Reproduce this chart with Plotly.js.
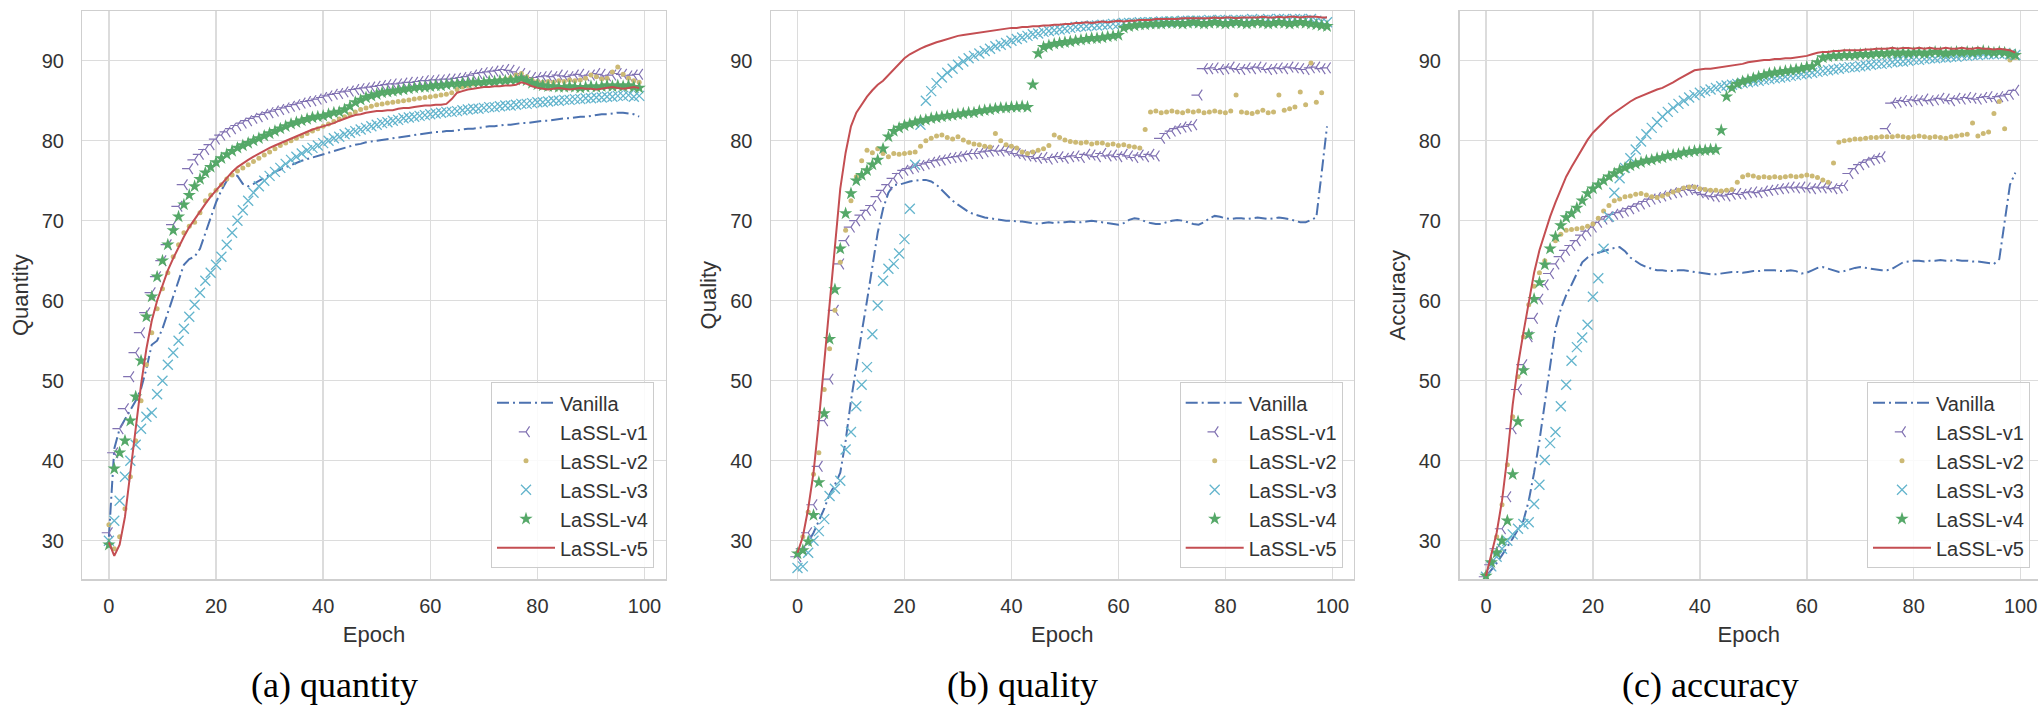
<!DOCTYPE html>
<html>
<head>
<meta charset="utf-8">
<script src="https://cdn.plot.ly/plotly-3.0.1.min.js"></script>
<style>html,body{margin:0;padding:0;background:#fff;}#chart{width:2038px;height:708px;}</style>
</head>
<body>
<div id="chart"></div>
<script>
const EPOCHS = [0,1,2,3,4,5,6,7,8,9,10,11,12,13,14,15,16,17,18,19,20,21,22,23,24,25,26,27,28,29,30,31,32,33,34,35,36,37,38,39,40,41,42,43,44,45,46,47,48,49,50,51,52,53,54,55,56,57,58,59,60,61,62,63,64,65,66,67,68,69,70,71,72,73,74,75,76,77,78,79,80,81,82,83,84,85,86,87,88,89,90,91,92,93,94,95,96,97,98,99];
const SERIES_NAMES = ['Vanilla','LaSSL-v1','LaSSL-v2','LaSSL-v3','LaSSL-v4','LaSSL-v5'];
const X_TICKS = [0,20,40,60,80,100];
const Y_TICKS = [30,40,50,60,70,80,90];
const Y_TITLES = ['Quantity','Quality','Accuracy'];
const CAPTIONS = ['(a) quantity','(b) quality','(c) accuracy'];

// ---- (a) quantity ----
const A_VANILLA = [30.5,41.5,44.0,45.2,46.3,47.5,49.0,51.5,54.5,55.0,
56.5,58.5,60.5,62.5,64.5,65.2,65.5,66.5,68.5,70.5,
72.3,73.8,75.0,75.8,75.6,74.6,74.3,74.6,75.0,75.4,
75.8,76.1,76.4,76.7,77.0,77.3,77.5,77.7,77.9,78.1,
78.3,78.5,78.7,78.9,79.1,79.3,79.5,79.6,79.8,79.9,
80.0,80.1,80.2,80.3,80.4,80.5,80.6,80.7,80.8,80.9,
81.0,81.1,81.1,81.2,81.2,81.3,81.4,81.5,81.5,81.6,
81.7,81.8,81.8,81.9,82.0,82.0,82.1,82.2,82.2,82.3,
82.4,82.5,82.5,82.6,82.7,82.8,82.8,82.9,83.0,83.0,
83.1,83.2,83.3,83.3,83.4,83.5,83.5,83.4,83.3,83.0];
const A_V1 = [31.0,41.0,44.0,46.5,50.5,53.5,56.0,58.5,61.0,63.0,
65.0,67.0,69.5,71.8,74.5,76.5,77.6,78.3,78.9,79.5,
80.2,80.7,81.1,81.5,81.9,82.2,82.5,82.8,83.0,83.3,
83.5,83.7,83.9,84.1,84.3,84.5,84.7,84.9,85.0,85.2,
85.4,85.6,85.8,85.9,86.1,86.2,86.4,86.5,86.6,86.7,
86.8,86.9,87.0,87.1,87.1,87.2,87.3,87.3,87.4,87.5,
87.5,87.6,87.6,87.7,87.7,87.8,87.9,88.0,88.2,88.4,
88.5,88.6,88.7,88.8,88.9,88.8,88.6,88.4,88.1,87.9,
87.9,88.0,88.1,88.0,88.2,88.1,88.0,88.2,88.3,88.1,
88.2,88.4,88.3,88.1,88.2,88.4,88.3,88.1,88.2,88.3];
const A_V2 = [32.0,29.0,30.5,34.0,38.0,42.5,47.5,52.0,56.0,59.0,
61.5,63.5,65.5,67.0,68.5,69.3,69.8,71.0,72.5,73.2,
73.8,74.5,75.2,75.7,76.2,76.6,77.0,77.4,77.8,78.2,
78.6,79.0,79.4,79.7,80.0,80.3,80.6,80.9,81.2,81.5,
81.8,82.1,82.4,82.7,83.0,83.3,83.6,83.9,84.1,84.3,
84.5,84.6,84.7,84.8,84.9,85.0,85.1,85.2,85.3,85.4,
85.5,85.6,85.7,85.8,86.0,86.4,86.7,86.9,87.1,87.2,
87.3,87.4,87.5,87.6,87.7,87.9,88.2,88.4,88.0,87.6,
87.4,87.3,87.4,87.3,87.5,87.4,87.6,87.5,87.6,87.8,
88.2,88.0,87.7,87.8,88.6,89.2,88.3,87.8,87.5,87.3];
const A_V3 = [30.0,32.5,35.0,38.0,40.0,42.0,44.0,45.5,46.0,48.3,
50.0,52.0,53.5,55.0,56.5,58.0,59.5,61.0,62.5,63.5,
64.5,65.5,67.0,68.5,70.0,71.3,72.5,73.5,74.3,75.0,
75.6,76.1,76.6,77.1,77.6,78.0,78.4,78.8,79.1,79.4,
79.7,80.0,80.3,80.5,80.8,81.0,81.2,81.4,81.6,81.8,
82.0,82.2,82.3,82.5,82.6,82.8,82.9,83.0,83.1,83.2,
83.3,83.4,83.5,83.6,83.6,83.7,83.8,83.9,84.0,84.0,
84.1,84.2,84.2,84.3,84.4,84.4,84.5,84.6,84.6,84.7,
84.8,84.8,84.9,85.0,85.0,85.1,85.1,85.2,85.2,85.3,
85.3,85.4,85.4,85.5,85.5,85.6,85.6,85.7,85.5,85.6];
const A_V4 = [29.5,39.0,41.0,42.5,45.0,48.0,52.5,58.0,60.5,63.0,
65.0,67.0,68.8,70.5,72.0,73.2,74.3,75.2,76.0,76.7,
77.3,77.8,78.3,78.7,79.1,79.4,79.7,80.0,80.3,80.6,
80.9,81.2,81.5,81.8,82.1,82.3,82.5,82.7,82.9,83.0,
83.1,83.3,83.5,83.6,83.9,84.3,84.8,85.1,85.4,85.6,
85.8,86.0,86.1,86.2,86.3,86.4,86.5,86.6,86.7,86.7,
86.8,86.9,86.9,87.0,87.1,87.1,87.2,87.2,87.3,87.3,
87.3,87.4,87.4,87.5,87.5,87.6,87.6,87.8,87.5,87.2,
87.0,86.9,86.8,86.8,86.7,86.7,86.8,86.7,86.6,86.7,
86.8,86.7,86.8,86.9,86.8,86.9,86.8,86.9,86.7,86.6];
const A_V5 = [29.8,28.1,29.5,33.0,38.5,44.0,49.5,54.0,57.5,60.0,
62.0,63.8,65.3,66.7,68.0,69.2,70.2,71.2,72.1,73.0,
73.8,74.6,75.4,76.1,76.7,77.2,77.6,78.0,78.4,78.8,
79.1,79.4,79.7,80.0,80.3,80.6,80.9,81.2,81.4,81.6,
81.8,82.0,82.2,82.5,82.8,83.0,83.2,83.3,83.5,83.6,
83.7,83.7,83.8,83.8,84.0,84.1,84.1,84.2,84.3,84.4,
84.4,84.5,84.5,84.6,85.2,86.0,86.2,86.4,86.5,86.6,
86.7,86.7,86.8,86.8,86.9,86.9,87.0,87.3,87.1,86.8,
86.6,86.5,86.4,86.5,86.6,86.5,86.4,86.5,86.6,86.5,
86.5,86.4,86.5,86.6,86.7,86.6,86.5,86.6,86.7,86.6];

// ---- (b) quality ----
const B_VANILLA = [28.0,28.8,29.8,31.0,32.5,34.0,35.8,37.0,38.5,42.5,
47.5,52.0,56.0,60.0,64.5,68.5,71.5,73.5,74.5,74.5,
74.7,74.9,75.0,75.1,75.1,74.9,74.5,73.8,73.1,72.5,
72.0,71.5,71.1,70.8,70.6,70.4,70.3,70.2,70.1,70.0,
70.0,69.9,69.9,69.8,69.7,69.6,69.7,69.8,69.7,69.8,
69.8,69.9,69.8,69.8,69.9,70.0,69.9,69.8,69.7,69.6,
69.5,69.7,70.1,70.3,70.2,69.9,69.7,69.6,69.6,69.8,
70.0,70.1,70.0,69.8,69.6,69.5,69.8,70.3,70.6,70.5,
70.3,70.2,70.3,70.3,70.2,70.3,70.4,70.3,70.2,70.3,
70.4,70.3,70.2,70.0,69.8,69.8,70.1,70.4,76.0,81.8];
const B_V1 = [28.0,29.0,31.0,34.5,39.3,45.0,50.2,58.8,64.6,67.5,
69.2,70.0,70.7,71.3,71.9,73.0,73.8,74.5,75.3,75.9,
76.3,76.5,76.7,76.9,77.1,77.3,77.5,77.6,77.8,77.9,
78.0,78.1,78.3,78.4,78.4,78.6,78.7,78.8,78.7,78.8,
78.6,78.4,78.2,78.1,78.0,77.8,77.9,77.7,77.9,78.0,
77.8,78.0,78.1,77.9,78.3,78.2,78.0,78.4,78.1,78.2,
78.0,78.3,78.1,77.9,78.2,78.0,78.3,78.1,80.3,80.9,
81.2,81.5,81.7,81.8,82.0,85.7,89.0,89.0,89.1,88.9,
89.0,89.2,89.0,88.9,89.1,89.0,89.2,89.1,88.9,89.0,
89.1,89.0,89.2,89.1,89.0,88.9,89.1,89.2,89.0,89.1];
const B_V2 = [28.5,30.5,33.6,38.3,41.0,48.9,54.0,58.8,64.8,68.8,
72.5,75.5,77.5,78.8,78.5,79.0,78.4,78.0,78.4,78.3,
78.4,78.5,78.6,79.3,80.0,80.3,80.6,80.7,80.4,80.2,
80.5,80.1,79.8,79.6,79.5,79.3,79.2,80.9,80.0,79.5,
79.3,79.1,78.6,78.4,78.6,78.8,79.0,79.4,80.7,80.4,
80.1,79.9,79.8,79.7,79.8,79.6,79.7,79.7,79.5,79.6,
79.4,79.5,79.3,79.2,79.1,81.4,83.6,83.7,83.5,83.6,
83.7,83.6,83.5,83.7,83.6,83.7,83.5,83.6,83.7,83.6,
83.5,83.7,85.7,83.6,83.5,83.4,83.6,83.8,83.5,83.6,
85.7,83.8,84.0,84.2,86.1,84.5,89.7,84.8,86.0,94.3];
const B_V3 = [26.6,26.8,28.5,30.0,31.2,32.7,35.6,36.5,37.5,41.4,
43.6,46.8,49.5,51.7,55.8,59.4,62.5,64.0,64.6,65.9,
67.7,71.5,77.0,82.0,85.0,86.2,87.2,87.9,88.5,89.0,
89.5,89.9,90.3,90.6,90.9,91.2,91.5,91.8,92.0,92.2,
92.5,92.7,92.9,93.1,93.3,93.4,93.6,93.7,93.8,93.9,
94.0,94.1,94.2,94.3,94.3,94.4,94.4,94.5,94.5,94.6,
94.6,94.7,94.7,94.7,94.8,94.8,94.8,94.8,94.9,94.9,
94.9,94.9,95.0,95.0,95.0,95.0,95.0,95.1,95.0,95.1,
95.1,95.0,95.1,95.1,95.1,95.2,95.1,95.1,95.2,95.1,
95.2,95.2,95.1,95.2,95.2,95.1,95.2,95.0,94.9,94.8];
const B_V4 = [28.4,28.8,29.9,33.2,37.3,45.9,55.2,61.4,66.5,70.9,
73.4,75.0,75.7,76.3,77.0,77.6,79.0,80.5,81.2,81.6,
81.9,82.1,82.3,82.5,82.6,82.8,82.9,83.0,83.1,83.2,
83.3,83.4,83.5,83.5,83.7,83.8,83.9,84.0,84.1,84.1,
84.2,84.2,84.3,84.2,87.0,90.9,91.7,91.9,92.1,92.2,
92.3,92.4,92.5,92.6,92.7,92.8,92.8,92.9,93.0,93.1,
93.2,94.1,94.3,94.4,94.5,94.5,94.6,94.6,94.6,94.7,
94.7,94.7,94.6,94.7,94.8,94.7,94.6,94.7,94.8,94.7,
94.6,94.7,94.8,94.7,94.6,94.7,94.8,94.7,94.6,94.7,
94.8,94.7,94.6,94.7,94.8,94.7,94.6,94.5,94.4,94.3];
const B_V5 = [28.5,30.5,34.0,38.5,45.0,52.5,60.0,67.5,74.0,78.5,
81.8,83.5,84.5,85.5,86.3,87.0,87.5,88.2,88.8,89.5,
90.3,90.8,91.2,91.5,91.8,92.1,92.3,92.5,92.7,92.9,
93.1,93.2,93.3,93.4,93.5,93.6,93.7,93.8,93.9,94.0,
94.1,94.1,94.2,94.2,94.3,94.3,94.4,94.4,94.5,94.5,
94.6,94.6,94.7,94.7,94.8,94.7,94.8,94.9,94.8,94.9,
95.0,94.9,95.0,95.0,95.1,95.1,95.1,95.2,95.2,95.2,
95.2,95.2,95.3,95.3,95.3,95.3,95.3,95.3,95.4,95.3,
95.4,95.4,95.3,95.4,95.4,95.4,95.4,95.5,95.4,95.4,
95.5,95.4,95.5,95.5,95.4,95.5,95.5,95.5,95.4,95.4];

// ---- (c) accuracy ----
const C_VANILLA = [25.5,26.3,27.2,28.2,29.2,30.3,31.4,32.5,35.0,38.5,
42.5,47.0,52.0,56.5,59.0,60.7,62.0,63.5,64.8,65.4,
65.8,66.0,66.2,66.4,66.6,66.7,66.2,65.4,64.9,64.5,
64.2,64.0,63.8,63.8,63.7,63.7,63.8,63.8,63.7,63.6,
63.5,63.4,63.3,63.3,63.4,63.5,63.6,63.6,63.5,63.6,
63.7,63.7,63.8,63.8,63.8,63.7,63.7,63.8,63.7,63.4,
63.5,63.8,64.1,64.2,64.0,63.8,63.6,63.7,63.9,64.1,
64.2,64.1,64.0,63.9,63.8,63.8,64.0,64.4,64.8,64.9,
65.0,65.0,64.9,65.0,65.0,65.1,65.0,65.0,65.1,65.0,
65.0,64.9,64.9,64.8,64.7,64.6,65.2,70.0,74.5,76.0];
const C_V1 = [25.5,27.0,29.0,31.5,35.5,44.0,48.9,52.0,55.5,57.8,
60.2,62.0,63.4,64.6,65.5,66.3,66.9,67.5,68.2,68.7,
69.2,69.8,70.2,70.5,70.8,71.0,71.2,71.5,71.8,72.1,
72.4,72.7,72.9,73.1,73.3,73.5,73.6,73.8,73.9,73.8,
73.5,73.3,73.1,73.0,73.2,73.1,73.3,73.4,73.3,73.5,
73.6,73.5,73.7,73.8,73.9,74.0,74.1,74.2,74.1,74.2,
74.1,74.0,74.2,74.1,74.2,74.0,74.1,74.4,75.9,76.5,
77.0,77.3,77.6,77.8,78.0,81.5,84.7,84.8,85.0,84.9,
85.1,85.0,85.2,85.0,85.1,85.3,85.2,85.0,85.3,85.2,
85.4,85.3,85.2,85.4,85.5,85.3,85.5,85.6,85.8,86.3];
const C_V2 = [25.8,27.5,30.5,34.5,39.5,45.5,50.5,55.5,59.5,61.8,
63.5,65.0,66.5,67.5,68.3,68.8,68.9,69.0,69.1,69.3,
69.6,70.3,71.2,71.9,72.5,72.7,73.0,73.1,73.3,73.4,
73.2,73.0,72.9,73.1,73.3,73.6,73.8,74.1,74.2,74.2,
74.0,73.9,73.8,73.8,73.7,73.8,73.9,74.8,75.5,75.7,
75.6,75.4,75.5,75.4,75.5,75.4,75.5,75.6,75.5,75.6,
75.7,75.6,75.4,75.1,74.8,77.2,79.8,80.0,80.1,80.2,
80.2,80.3,80.4,80.4,80.5,80.5,80.5,80.6,80.5,80.4,
80.5,80.6,80.5,80.4,80.5,80.4,80.3,80.5,80.6,80.7,
80.8,82.2,80.6,80.9,81.1,83.4,84.9,81.5,90.1,90.4];
const C_V3 = [25.5,26.8,28.0,29.0,30.0,30.8,31.5,32.1,32.3,34.6,
37.0,40.1,42.2,43.6,46.8,49.5,52.5,54.2,55.4,57.0,
60.5,62.8,66.5,70.5,73.5,75.3,76.6,77.8,78.9,79.9,
80.8,81.6,82.3,83.0,83.6,84.1,84.6,85.0,85.4,85.7,
86.0,86.2,86.4,86.6,86.8,86.9,87.0,87.1,87.2,87.3,
87.4,87.5,87.6,87.7,87.8,87.9,88.0,88.1,88.2,88.3,
88.4,88.5,88.6,88.7,88.8,88.9,89.0,89.1,89.2,89.2,
89.3,89.4,89.5,89.6,89.6,89.7,89.8,89.9,89.9,90.0,
90.1,90.1,90.2,90.3,90.3,90.4,90.4,90.5,90.5,90.6,
90.6,90.7,90.7,90.8,90.8,90.8,90.9,90.9,90.8,90.7];
const C_V4 = [25.6,27.3,28.5,30.0,32.5,38.3,44.9,51.3,55.8,60.2,
62.3,64.5,66.5,68.0,69.4,70.4,70.9,71.6,72.5,73.4,
74.0,74.5,75.0,75.5,75.9,76.3,76.6,76.9,77.1,77.3,
77.5,77.6,77.8,77.9,78.1,78.2,78.3,78.5,78.6,78.7,
78.8,78.8,78.9,78.9,81.3,85.5,86.6,87.1,87.4,87.6,
87.8,88.0,88.2,88.4,88.5,88.6,88.7,88.8,88.9,89.0,
89.2,89.3,89.8,90.4,90.5,90.6,90.6,90.7,90.7,90.7,
90.8,90.8,90.8,90.9,90.9,90.9,91.0,90.9,91.0,90.9,
91.0,91.0,90.9,91.0,91.1,91.0,90.9,91.0,91.1,91.0,
91.1,91.0,91.1,91.2,91.1,91.0,91.1,91.0,90.8,90.7];
const C_V5 = [25.6,28.3,31.0,35.0,40.5,47.0,52.0,56.0,60.0,63.5,
66.3,68.5,70.5,72.3,74.0,75.5,76.7,77.8,79.0,80.1,
81.0,81.7,82.4,83.0,83.5,84.0,84.5,84.9,85.3,85.6,
85.9,86.2,86.4,86.6,86.9,87.3,87.7,88.1,88.5,88.8,
88.9,89.0,89.0,89.1,89.2,89.3,89.4,89.5,89.6,89.8,
89.9,90.0,90.1,90.1,90.2,90.2,90.3,90.3,90.4,90.5,
90.6,90.8,91.0,91.1,91.1,91.2,91.2,91.3,91.3,91.3,
91.3,91.4,91.4,91.5,91.5,91.5,91.6,91.5,91.6,91.6,
91.5,91.6,91.5,91.6,91.5,91.5,91.6,91.5,91.5,91.6,
91.5,91.5,91.6,91.5,91.5,91.4,91.5,91.4,91.3,91.0];

const PANELS = [
  [A_VANILLA, A_V1, A_V2, A_V3, A_V4, A_V5],
  [B_VANILLA, B_V1, B_V2, B_V3, B_V4, B_V5],
  [C_VANILLA, C_V1, C_V2, C_V3, C_V4, C_V5]
];

// ---- styles ----
const COLORS = ['#4C72B0','#8172B2','#CCB974','#64B5CD','#55A868','#C44E52'];
function styleFor(k) {
  const c = COLORS[k];
  switch (k) {
    case 0: return {mode:'lines', line:{color:c, width:2, dash:'12px,4px,2px,4px'}};
    case 1: return {mode:'markers', marker:{symbol:'y-left', size:9, color:c, line:{color:c, width:1.2}}};
    case 2: return {mode:'markers', marker:{symbol:'circle', size:5, color:c, line:{width:0}}};
    case 3: return {mode:'markers', marker:{symbol:'x-thin', size:10, color:c, line:{color:c, width:1.3}}};
    case 4: return {mode:'markers', marker:{symbol:'star', size:10, color:c, line:{width:0}}};
    default: return {mode:'lines', line:{color:c, width:2}};
  }
}

const W = 2038, H = 708;
const XDOMAINS = [[82.4/W, 665.7/W], [771/W, 1353.5/W], [1459.5/W, 1.0]];
const XRANGES = [[-4.95, 103.95], [-4.95, 103.95], [-4.95, 103.24]];
const YDOMAIN = [(H-579.3)/H, (H-11)/H];
const YRANGE = [25.18, 96.21];
const LEGEND_X = [654/W, 1342.7/W, 2030/W];
const LEGEND_Y = (H-568.3)/H;
const CAPTION_X = [334/W, 1022.6/W, 1710/W];

const TXT = '#333333';
const traces = [];
PANELS.forEach((series, p) => {
  const sfx = p === 0 ? '' : String(p+1);
  series.forEach((vals, k) => {
    traces.push(Object.assign({
      type:'scatter', x:EPOCHS, y:vals, name:SERIES_NAMES[k],
      xaxis:'x'+sfx, yaxis:'y'+sfx, legend:'legend'+sfx,
      showlegend:true, hoverinfo:'skip', cliponaxis:true
    }, styleFor(k)));
  });
});

const layout = {
  width:W, height:H, margin:{l:0,r:0,t:0,b:0},
  paper_bgcolor:'#ffffff', plot_bgcolor:'#ffffff',
  font:{family:'"Liberation Sans", Arial, sans-serif', color:TXT, size:20},
  annotations:[]
};
for (let p = 0; p < 3; p++) {
  const sfx = p === 0 ? '' : String(p+1);
  layout['xaxis'+sfx] = {
    domain:XDOMAINS[p], range:XRANGES[p], anchor:'y'+sfx,
    tickmode:'array', tickvals:X_TICKS, ticks:'',
    showgrid:true, gridcolor:'#dcdcdc', gridwidth:1.5, zeroline:false,
    showline:true, linecolor:'#cfcfcf', linewidth:1.5, mirror:true,
    tickfont:{size:20, color:TXT}, ticklabelstandoff:8,
    title:{text:'Epoch', font:{size:22, color:TXT}, standoff:11},
    automargin:true
  };
  layout['yaxis'+sfx] = {
    domain:YDOMAIN, range:YRANGE, anchor:'x'+sfx,
    tickmode:'array', tickvals:Y_TICKS,
    ticks:'outside', ticklen:13, tickcolor:'rgba(0,0,0,0)',
    showgrid:true, gridcolor:'#dcdcdc', gridwidth:1.5, zeroline:false,
    showline:true, linecolor:'#cfcfcf', linewidth:1.5, mirror: p < 2,
    tickfont:{size:20, color:TXT},
    title:{text:Y_TITLES[p], font:{size:22, color:TXT}, standoff:7},
    automargin:true
  };
  layout['legend'+sfx] = {
    x:LEGEND_X[p], xanchor:'right', y:LEGEND_Y, yanchor:'bottom',
    bgcolor:'rgba(255,255,255,0.85)', bordercolor:'#cccccc', borderwidth:1,
    font:{size:20, color:TXT}, traceorder:'normal', tracegroupgap:0,
    itemwidth:58
  };
  layout.annotations.push({
    text:CAPTIONS[p], xref:'paper', yref:'paper', x:CAPTION_X[p], y:(H-685)/H,
    xanchor:'center', yanchor:'middle', showarrow:false,
    font:{family:'"Liberation Serif", "Times New Roman", serif', size:36, color:'#000000'}
  });
}

Plotly.newPlot('chart', traces, layout, {displayModeBar:false, staticPlot:true});
</script>
</body>
</html>
